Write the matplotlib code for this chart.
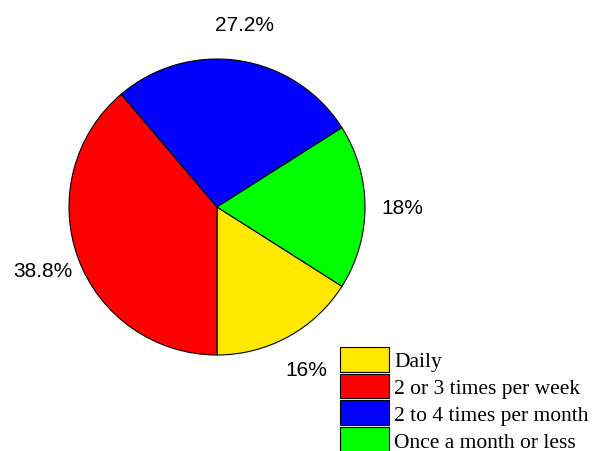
import matplotlib
matplotlib.use("Agg")
import matplotlib.pyplot as plt

# Survey shares (percent)
categories = ['Daily', '2 or 3 times per week', '2 to 4 times per month', 'Once a month or less']
shares = [16, 38.8, 27.2, 18]
colors = ['#FFE800', '#FF0000', '#0000FF', '#00FF00']

fig = plt.figure(figsize=(5.96, 4.52), dpi=100)
ax = fig.add_axes([69 / 596, 1 - 356 / 452, 296 / 596, 296 / 452])

wedges, texts, autotexts = ax.pie(
    shares, colors=colors, startangle=-90 + shares[0] * 3.6, counterclock=False,
    autopct=lambda p: f'{round(p, 1):g}%', pctdistance=1.25,
    wedgeprops=dict(edgecolor='black', linewidth=0.8),
    textprops=dict(family='Liberation Sans', fontsize=15, color='black'))
ax.set_xlim(-1, 1)
ax.set_ylim(-1, 1)
ax.set_aspect('auto')
ax.axis('off')

leg = fig.legend(wedges, categories, loc='upper left',
                 bbox_to_anchor=(340 / 596, 1 - 348 / 452),
                 frameon=False, borderpad=0, borderaxespad=0,
                 handlelength=2.28, handleheight=1.38, handletextpad=0.25,
                 labelspacing=0.1, prop=dict(family='Liberation Serif', size=15.5))

fig.savefig('out.png', dpi=100)
